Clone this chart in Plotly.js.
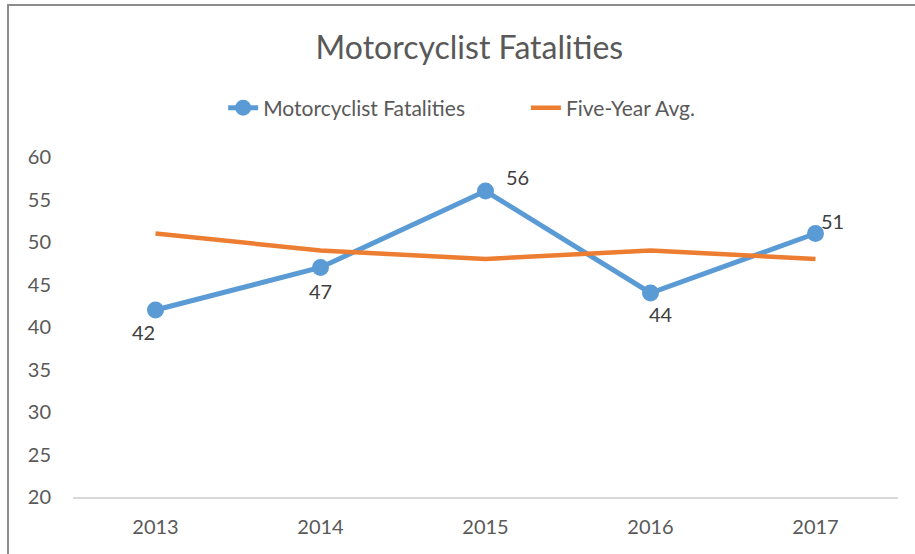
<!DOCTYPE html>
<html>
<head>
<meta charset="utf-8">
<script src="https://cdn.plot.ly/plotly-3.0.1.min.js"></script>
<style>
html,body{margin:0;padding:0;background:#fff;}
#chart{width:915px;height:554px;}
</style>
</head>
<body>
<div id="chart"></div>
<script>
const years = ['2013', '2014', '2015', '2016', '2017'];
const fatalities = [42, 47, 56, 44, 51];
const fiveYearAvg = [51, 49, 48, 49, 48];
// data-label offsets (pixels) relative to each point
const labelShiftX = [-12, 0, 32, 10, 17];
const labelShiftY = [-22, -23, 14, -21, 13];

const font = 'Lato, "Open Sans", sans-serif';

const traces = [
  {
    x: years, y: fatalities, name: 'Motorcyclist Fatalities',
    type: 'scatter', mode: 'lines+markers',
    line: {color: '#5B9BD5', width: 5},
    marker: {color: '#5B9BD5', size: 17},
    legend: 'legend'
  },
  {
    x: years, y: fiveYearAvg, name: 'Five-Year Avg.',
    type: 'scatter', mode: 'lines',
    line: {color: '#ED7D31', width: 4.5},
    legend: 'legend2'
  }
];

// category axis: annotation x given as the category index
const annotations = years.map((yr, i) => ({
  x: i, y: fatalities[i], xref: 'x', yref: 'y',
  text: String(fatalities[i]), showarrow: false,
  xshift: labelShiftX[i], yshift: labelShiftY[i],
  xanchor: 'center', yanchor: 'middle',
  font: {family: font, size: 20, color: '#404040'}
}));

const legendFont = {family: font, size: 21, color: '#595959'};

const layout = {
  width: 915, height: 554,
  margin: {l: 73, r: 17, t: 157, b: 57},
  paper_bgcolor: '#fff', plot_bgcolor: '#fff',
  font: {family: font, color: '#595959'},
  title: {
    text: 'Motorcyclist Fatalities',
    font: {family: font, size: 32, color: '#595959'},
    x: 0.513, xref: 'container', xanchor: 'center',
    y: 0.913, yref: 'container', yanchor: 'middle'
  },
  showlegend: true,
  legend: {
    orientation: 'h', x: 0.182, xanchor: 'left',
    y: 1.144, yanchor: 'middle', font: legendFont
  },
  legend2: {
    orientation: 'h', x: 0.549, xanchor: 'left',
    y: 1.144, yanchor: 'middle', font: legendFont
  },
  xaxis: {
    type: 'category', range: [-0.5, 4.5],
    showline: true, linecolor: '#d9d9d9', linewidth: 1.5,
    showgrid: false, zeroline: false, ticks: '',
    ticklabelstandoff: 11,
    tickfont: {family: font, size: 20, color: '#595959'}
  },
  yaxis: {
    range: [20, 60], dtick: 5, tick0: 20,
    showline: false, showgrid: false, zeroline: false, ticks: '',
    ticklabelstandoff: 21,
    tickfont: {family: font, size: 20, color: '#595959'}
  },
  annotations: annotations,
  // chart frame (only top and left edges visible in the crop)
  shapes: [
    {type: 'rect', xref: 'paper', yref: 'paper', layer: 'below',
     x0: (8 - 73) / 825, x1: 1.1, y0: -0.3, y1: (497 - 5) / 340,
     line: {color: '#8c8c8c', width: 2}}
  ]
};

Plotly.newPlot('chart', traces, layout, {displayModeBar: false, staticPlot: true});
</script>
</body>
</html>
